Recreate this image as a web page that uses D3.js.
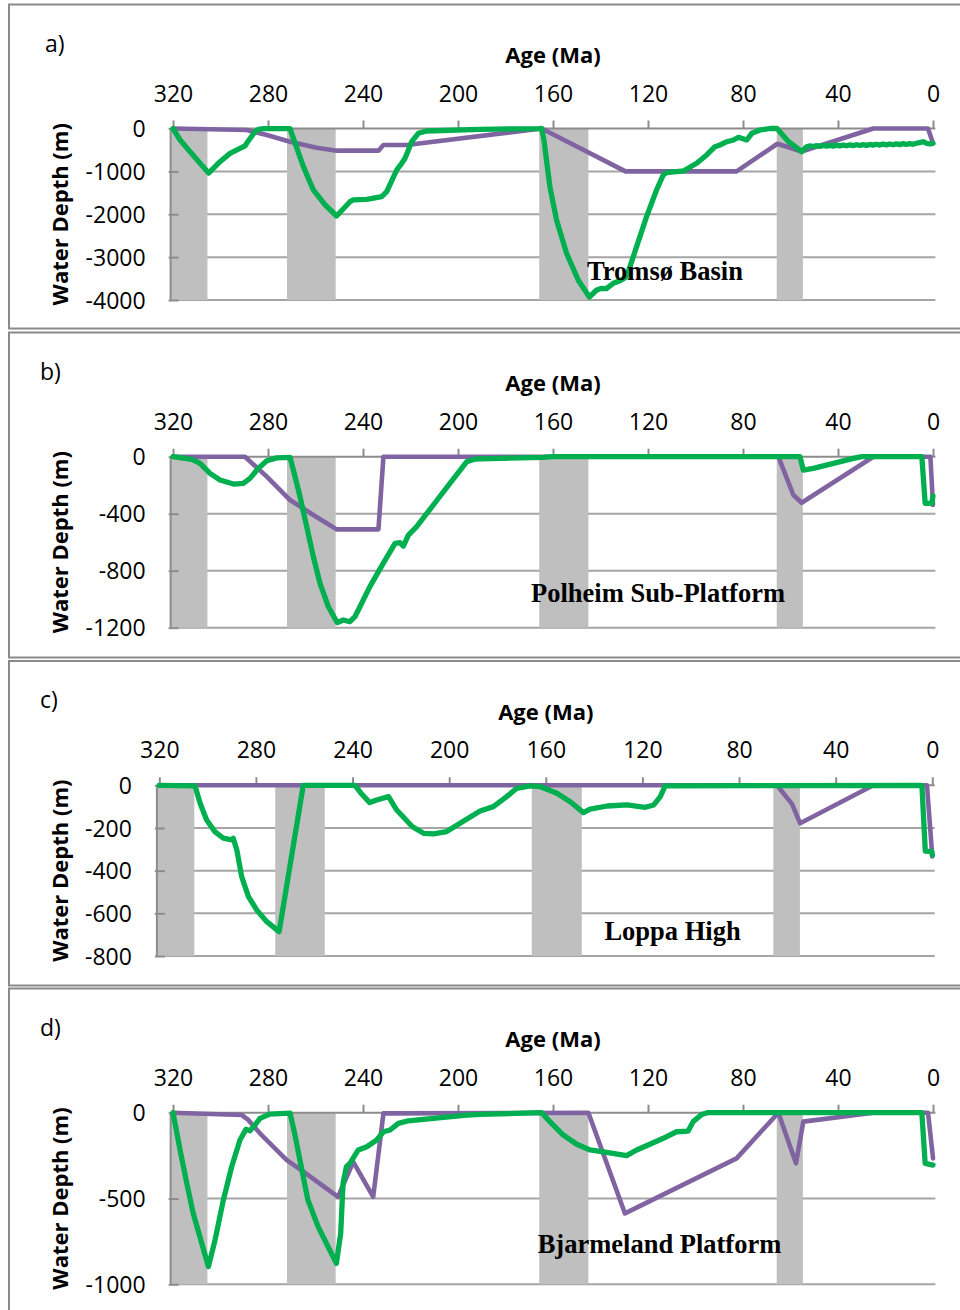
<!DOCTYPE html>
<html><head><meta charset="utf-8">
<script src="https://cdn.jsdelivr.net/npm/d3@7/dist/d3.min.js"></script>
<style>body{margin:0;background:#fff;} svg{display:block;}</style>
</head><body>
<svg id="chart" width="960" height="1310"></svg>
<script>
// ---------------- DATA ----------------
const xTickValues = [320, 280, 240, 200, 160, 120, 80, 40, 0];
// grey event bands [older age, younger age] (Ma)
const grayBands = [[321, 305.5], [272, 251.5], [165.8, 145.1], [65.8, 54.8]];

const panelLabels = ["a)", "b)", "c)", "d)"];
const areaNames = ["Tromsø Basin", "Polheim Sub-Platform", "Loppa High", "Bjarmeland Platform"];

const tromsoTicks = [0, -1000, -2000, -3000, -4000];
const polheimTicks = [0, -400, -800, -1200];
const loppaTicks = [0, -200, -400, -600, -800];
const bjarmelandTicks = [0, -500, -1000];

// [age (Ma), water depth (m)]
const tromsoGreen = [[320,0],[317,-268],[312.8,-540],[308.6,-812],[305,-1040],[300.2,-774],[296,-580],[289.7,-408],[289,-345],[285.5,-75],[284,-20],[282,-5],[270.7,-5],[269.3,-229],[265.1,-890],[260.9,-1434],[255.9,-1785],[251.1,-2040],[245.5,-1707],[244.1,-1667],[238.4,-1651],[232.1,-1590],[230,-1474],[225.8,-968],[223.7,-812],[222.3,-695],[219.5,-308],[216.7,-112],[213.2,-58],[190.7,-19],[166,-3],[164.8,0],[163.8,-268],[163.1,-579],[161.3,-1357],[158.5,-2134],[154.3,-2911],[149.4,-3533],[144.7,-3930],[141.6,-3766],[139.5,-3727],[137.5,-3735],[134.6,-3610],[131.8,-3549],[129,-3456],[124.8,-2757],[120.6,-2057],[116.4,-1434],[113.6,-1084],[112.2,-1030],[108,-1007],[105.1,-990],[99.5,-812],[95.3,-618],[91.8,-424],[89.7,-385],[86.8,-308],[84,-268],[81.9,-205],[78.4,-268],[76.3,-112],[72.8,-35],[68.6,0],[65.7,0],[60.8,-308],[55.3,-541],[53.2,-425],[51.8,-405],[50.4,-420],[49,-400],[47.6,-417],[46.2,-396],[44.8,-413],[43.4,-393],[42,-410],[40.6,-389],[39.2,-406],[37.8,-386],[36.4,-403],[35,-382],[33.6,-400],[32.2,-379],[30.8,-396],[29.4,-375],[28,-393],[26.6,-372],[25.2,-389],[23.8,-368],[22.4,-386],[21,-365],[19.6,-382],[18.2,-361],[16.8,-379],[15.4,-358],[14,-375],[12.6,-354],[11.2,-372],[9.8,-351],[8.4,-368],[7,-344],[5.6,-330],[4.1,-308],[2.7,-345],[1.2,-361],[0,-345]];
const tromsoPurple = [[320,0],[289,-35],[280.5,-151],[270.7,-308],[259.5,-447],[251.1,-517],[233.5,-517],[231.4,-385],[221.6,-385],[164.8,0],[129.5,-1000],[82.7,-1000],[65.5,-355],[55.3,-535],[25.1,0],[2.1,0],[0,-345]];

const polheimGreen = [[320,0],[312.1,-19],[308.6,-47],[304.4,-117],[300.2,-164],[294.6,-192],[290.4,-187],[287.6,-152],[284.1,-82],[280.5,-28],[276.3,-8],[270.7,-5],[269.3,-94],[266.5,-281],[263.7,-491],[260.9,-702],[258.1,-889],[254.6,-1053],[250.8,-1165],[248.3,-1146],[245.5,-1158],[243.4,-1123],[241.3,-1053],[237.1,-912],[231.5,-749],[226.5,-608],[224.4,-603],[223,-627],[220.9,-550],[217.4,-491],[210.4,-339],[203.4,-187],[196.3,-35],[193.5,-19],[190.7,-15],[164,-5],[160,0],[56,0],[54.6,-94],[50.4,-82],[33.5,-12],[30,0],[4.7,0],[3.3,-327],[0.5,-327],[0,-275]];
const polheimPurple = [[320,0],[289.7,0],[280.5,-140],[270.7,-304],[260.9,-409],[251.1,-510],[233.5,-510],[231.4,0],[65.1,0],[58.8,-269],[55.3,-323],[25.1,0],[1.1,0],[0,-339]];

const loppaGreen = [[320,0],[305.2,-3],[303.1,-84],[300.4,-163],[297,-217],[293.5,-248],[290,-256],[289.4,-248],[287.9,-303],[285.9,-428],[283.1,-522],[279.7,-584],[275.5,-639],[270.4,-686],[260.4,0],[239,0],[236.5,-37],[232.9,-81],[230,-69],[225.1,-53],[221.7,-116],[215.2,-194],[210.6,-225],[206.5,-228],[201,-217],[195.5,-178],[187.2,-120],[181.7,-100],[176.2,-53],[172,-14],[166.5,-3],[162.4,-6],[155.4,-37],[149.9,-77],[144.4,-128],[141.7,-112],[134.6,-97],[126.4,-92],[118.8,-103],[115.3,-92],[112.6,-53],[110.6,-3],[4.3,0],[2.9,-308],[0.2,-311],[0,-327]];
const loppaPurple = [[320,0],[64.3,0],[58.1,-87],[54.7,-178],[24.4,0],[2.2,0],[0,-334]];

const bjarmelandGreen = [[320,0],[317,-219],[314.2,-411],[311.5,-586],[307.9,-761],[305.1,-897],[302.3,-742],[298.8,-509],[295.3,-315],[291.8,-159],[289.3,-97],[287.6,-105],[285.5,-72],[283.4,-33],[279.2,-8],[270.7,-3],[268.8,-120],[266,-315],[263.2,-509],[258.9,-664],[254.7,-781],[251.2,-878],[249.4,-703],[248.4,-411],[247,-315],[245.5,-295],[242,-217],[238.4,-198],[234.2,-159],[231.4,-111],[228.6,-101],[225.1,-62],[220.9,-47],[210.4,-33],[196.3,-14],[190.7,-10],[164.8,0],[161.3,-52],[155.7,-130],[150,-184],[144.4,-217],[137.4,-231],[129,-250],[124.8,-217],[119.2,-184],[113.6,-149],[108,-111],[103.1,-107],[101,-52],[97.4,-10],[95,0],[4.7,0],[3.3,-295],[0,-305]];
const bjarmelandPurple = [[320,0],[291.1,-13],[288.3,-42],[283.4,-120],[272.1,-276],[265.1,-344],[250.5,-490],[244.1,-286],[235.7,-490],[231.4,-4],[145.1,0],[129.7,-587],[82.7,-266],[65.1,0],[57.7,-295],[54.6,-52],[25.1,0],[2.1,0],[0,-266]];

// ---------------- LAYOUT ----------------
const panels = [
  {label: panelLabels[0], name: areaNames[0], ticks: tromsoTicks, green: tromsoGreen, purple: tromsoPurple,
   frameY: 4.5, frameH: 324, y0: 128.5, y1: 300, x320: 173, x0: 933, labelX: 45, nameX: 665, nameY: 280},
  {label: panelLabels[1], name: areaNames[1], ticks: polheimTicks, green: polheimGreen, purple: polheimPurple,
   frameY: 332.5, frameH: 325, y0: 456.7, y1: 627.7, x320: 173, x0: 933, labelX: 40, nameX: 658, nameY: 601.5},
  {label: panelLabels[2], name: areaNames[2], ticks: loppaTicks, green: loppaGreen, purple: loppaPurple,
   frameY: 661, frameH: 324.5, y0: 785.3, y1: 956, x320: 159.3, x0: 932.3, labelX: 40, nameX: 672.5, nameY: 940},
  {label: panelLabels[3], name: areaNames[3], ticks: bjarmelandTicks, green: bjarmelandGreen, purple: bjarmelandPurple,
   frameY: 988.5, frameH: 330, y0: 1112.7, y1: 1284.3, x320: 173, x0: 933, labelX: 40, nameX: 659.5, nameY: 1253}
];

const sansFont = "'Open Sans', 'DejaVu Sans', sans-serif";
const serifFont = "'Liberation Serif', 'DejaVu Serif', serif";
const GREEN = "#00b050", PURPLE = "#8064a2", BAND = "#bfbfbf", GRID = "#a5a5a5", AXIS = "#8c8c8c";

const svg = d3.select("#chart");
svg.append("rect").attr("width", 960).attr("height", 1310).attr("fill", "#fff");

panels.forEach(p => {
  const g = svg.append("g");
  const yMin = d3.min(p.ticks);
  const x = d3.scaleLinear().domain([320, 0]).range([p.x320, p.x0]);
  const y = d3.scaleLinear().domain([0, yMin]).range([p.y0, p.y1]);
  const left = x(321), right = x(-1);

  // frame
  g.append("rect").attr("x", 9).attr("y", p.frameY).attr("width", 980).attr("height", p.frameH)
    .attr("fill", "none").attr("stroke", "#8a8a8a").attr("stroke-width", 2);

  // gridlines
  g.selectAll("line.grid").data(p.ticks.filter(t => t !== 0)).join("line")
    .attr("x1", left).attr("x2", right).attr("y1", d => y(d)).attr("y2", d => y(d))
    .attr("stroke", GRID).attr("stroke-width", 2);

  // grey bands
  g.selectAll("rect.band").data(grayBands).join("rect")
    .attr("x", d => Math.max(left, x(d[0]))).attr("width", d => x(d[1]) - Math.max(left, x(d[0])))
    .attr("y", y(0)).attr("height", y(yMin) - y(0)).attr("fill", BAND);

  // y axis
  const yAxis = d3.axisLeft(y).tickValues(p.ticks).tickSize(-8).tickPadding(0).tickFormat(d3.format("d"));
  const ya = g.append("g").attr("transform", `translate(${left},0)`).call(yAxis);
  ya.select(".domain").attr("stroke", AXIS).attr("stroke-width", 2).attr("d", `M0,${y(0)}V${y(yMin)}`);
  ya.selectAll(".tick line").attr("stroke", AXIS).attr("stroke-width", 2).attr("x1", -2);
  ya.selectAll(".tick text").attr("x", -25).attr("dy", "0.35em")
    .style("font-family", sansFont).style("font-size", "23px").attr("fill", "#000")
    .text(d => d === 0 ? "0" : String(d).replace("−", "-"));

  // top x axis
  const xAxis = d3.axisTop(x).tickValues(xTickValues).tickSize(8).tickPadding(0).tickFormat(d3.format("d"));
  const xa = g.append("g").attr("transform", `translate(0,${y(0)})`).call(xAxis);
  xa.select(".domain").attr("stroke", AXIS).attr("stroke-width", 2).attr("d", `M${left},0H${right}`);
  xa.selectAll(".tick line").attr("stroke", AXIS).attr("stroke-width", 2);
  xa.selectAll(".tick text").attr("y", -35).attr("dy", "0.35em")
    .style("font-family", sansFont).style("font-size", "23px").attr("fill", "#000");

  // lines
  const line = d3.line().x(d => x(d[0])).y(d => y(d[1]));
  g.append("path").datum(p.purple).attr("d", line).attr("fill", "none")
    .attr("stroke", PURPLE).attr("stroke-width", 4.6).attr("stroke-linejoin", "round").attr("stroke-linecap", "round");
  g.append("path").datum(p.green).attr("d", line).attr("fill", "none")
    .attr("stroke", GREEN).attr("stroke-width", 5.3).attr("stroke-linejoin", "round").attr("stroke-linecap", "round");

  // titles
  g.append("text").attr("x", x(160)).attr("y", y(0) - 73.5).attr("dy", "0.35em").attr("text-anchor", "middle")
    .style("font-family", sansFont).style("font-size", "22px").style("font-weight", "bold").text("Age (Ma)");
  const cy = (y(0) + y(yMin)) / 2;
  g.append("text").attr("transform", `translate(60,${cy}) rotate(-90)`).attr("dy", "0.35em").attr("text-anchor", "middle")
    .style("font-family", sansFont).style("font-size", "22px").style("font-weight", "bold").text("Water Depth (m)");
  g.append("text").attr("x", p.labelX).attr("y", y(0) - 85).attr("dy", "0.35em")
    .style("font-family", sansFont).style("font-size", "23px").text(p.label);
  g.append("text").attr("x", p.nameX).attr("y", p.nameY).attr("text-anchor", "middle")
    .style("font-family", serifFont).style("font-size", "26.5px").style("font-weight", "bold").text(p.name);
});
</script>
</body></html>
